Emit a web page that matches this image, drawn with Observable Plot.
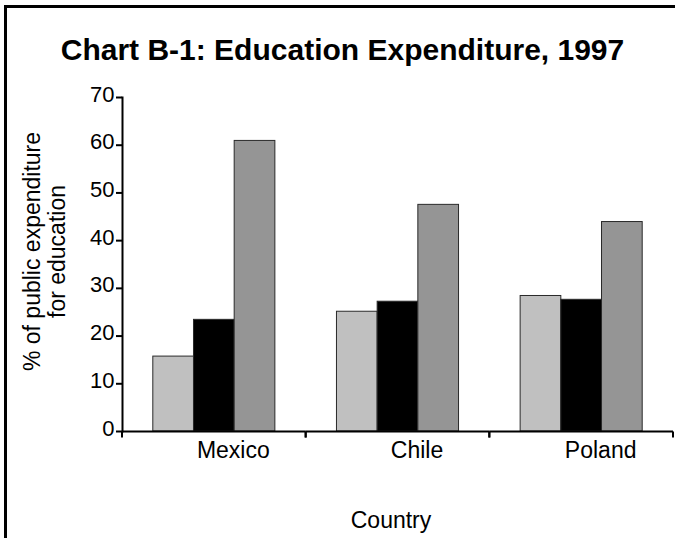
<!DOCTYPE html>
<html>
<head>
<meta charset="utf-8">
<script src="https://cdn.jsdelivr.net/npm/d3@7"></script>
<script src="https://cdn.jsdelivr.net/npm/@observablehq/plot@0.6"></script>
<style>
  body { margin: 0; background: #fff; }
  #chart { position: relative; width: 675px; height: 538px; overflow: hidden; font-family: "Liberation Sans", Arial, sans-serif; color: #000; }
  #box { position: absolute; left: 4px; top: 5px; width: 720px; height: 600px; border-left: 3px solid #000; border-top: 3px solid #000; }
  #title { position: absolute; left: 0; top: 33px; width: 685px; text-align: center; font-weight: bold; font-size: 30px; line-height: 34px; white-space: nowrap; }
  #plot { position: absolute; left: 0; top: 70px; }
</style>
</head>
<body>
<div id="chart">
  <div id="box"></div>
  <div id="title">Chart B-1: Education Expenditure, 1997</div>
  <div id="plot"></div>
</div>
<script>
// Countries along the x axis, three expenditure series per country
const countries = ["Mexico", "Chile", "Poland"];
const series = ["Series 1", "Series 2", "Series 3"];
const series1 = [15.7, 25.1, 28.4];
const series2 = [23.4, 27.2, 27.6];
const series3 = [60.9, 47.5, 43.9];
const seriesColors = ["#c0c0c0", "#000000", "#959595"];
const yTicks = [0, 10, 20, 30, 40, 50, 60, 70];
const yLabel = "% of public expenditure\nfor education";
const xLabel = "Country";

const seriesValues = [series1, series2, series3];
const rows = countries.flatMap((country, i) =>
  series.map((s, j) => ({country, series: s, value: seriesValues[j][i]}))
);

const svgNS = "http://www.w3.org/2000/svg";

const chart = Plot.plot({
  width: 675,
  height: 468,
  marginTop: 27,
  marginBottom: 107,
  marginLeft: 122,
  marginRight: 2,
  style: {fontFamily: "'Liberation Sans', Arial, sans-serif", fontSize: "22px", color: "#000", background: "transparent", overflow: "visible"},
  fx: {domain: countries, padding: 0, round: false},
  x: {domain: series, paddingInner: 0, paddingOuter: 0.757, round: false, axis: null},
  y: {domain: [0, 70], axis: null},
  color: {domain: series, range: seriesColors},
  marks: [
    Plot.barY(rows, {fx: "country", x: "series", y: "value", fill: "series", stroke: "#2a2a2a", strokeWidth: 1}),
    // baseline of each country band, with category boundary ticks at both band edges
    Plot.ruleY([0], {
      stroke: "#000",
      strokeWidth: 2,
      render(index, scales, values, dims, context, next) {
        const g = next(index, scales, values, dims, context);
        const y0 = scales.y(0);
        for (const x of [dims.marginLeft, dims.width - dims.marginRight]) {
          const line = document.createElementNS(svgNS, "line");
          line.setAttribute("x1", x);
          line.setAttribute("x2", x);
          line.setAttribute("y1", y0);
          line.setAttribute("y2", y0 + 6);
          line.setAttribute("stroke", "#000");
          line.setAttribute("stroke-width", 2);
          g.appendChild(line);
        }
        return g;
      }
    }),
    Plot.frame({anchor: "left", facetAnchor: "left", stroke: "#000", strokeWidth: 2}),
    Plot.axisY(yTicks, {tickSize: 6, fill: "none", strokeWidth: 2, label: null}),
    Plot.axisY(yTicks, {tickSize: 0, tickPadding: 8, dy: -3, label: null, fontSize: 22}),
    Plot.axisFx({anchor: "bottom", tickSize: 0, tickPadding: 10, dx: 19, label: null, fontSize: 23}),
    Plot.text([yLabel], {facetAnchor: "left", frameAnchor: "left", textAnchor: "middle", lineAnchor: "middle", rotate: -90, dx: -78, dy: -13, lineHeight: 1.1, fontSize: 23}),
    Plot.text([xLabel], {facet: "super", frameAnchor: "bottom", lineAnchor: "middle", dx: -7, dy: 89, fontSize: 23})
  ]
});

document.getElementById("plot").appendChild(chart);
</script>
</body>
</html>
